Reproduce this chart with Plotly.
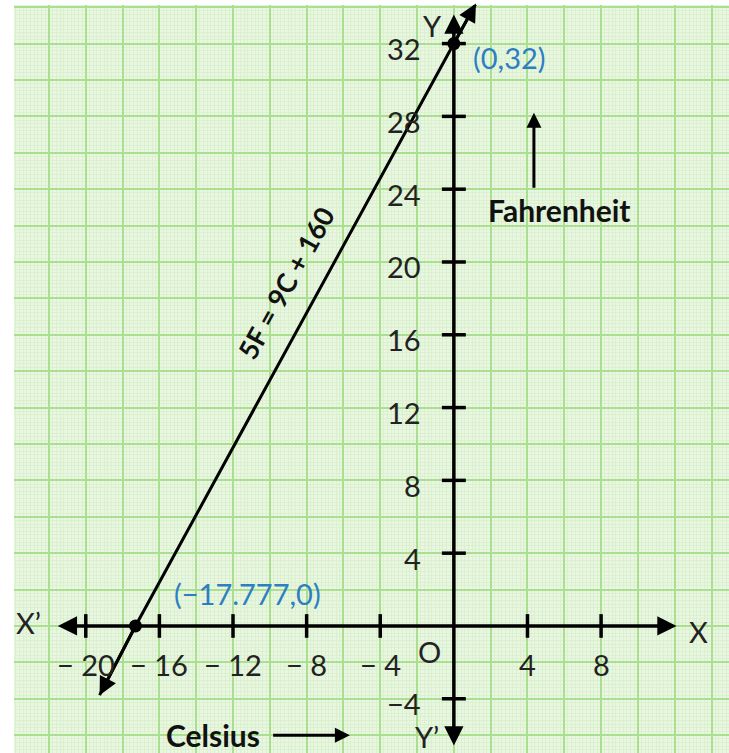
import plotly.graph_objects as go

# line 5F = 9C + 160 as drawn on the sheet (ends of the drawn line + the two marked points)
line_c = [-19.25, -17.3, 0, 1.2]
line_f = [-3.8, 0, 32, 34.2]

point_c = [-17.3, 0]
point_f = [0, 32]
point_labels = ["(−17.777,0)", "(0,32)"]

x_ticks = [-20, -16, -12, -8, -4, 4, 8]
x_tick_labels = ["− 20", "− 16", "− 12", "− 8", "− 4", "4", "8"]
y_ticks = [-4, 4, 8, 12, 16, 20, 24, 28, 32]
y_tick_labels = ["−4", "4", "8", "12", "16", "20", "24", "28", "32"]

FONT = "Lato"
BLUE = "#2d7fc1"
TICK = 0.65
FS = 29

fig = go.Figure()

# tick marks on the drawn axes
tx, ty = [], []
for v in x_ticks:
    tx += [v, v, None]
    ty += [-TICK, TICK, None]
for v in y_ticks:
    tx += [-TICK, TICK, None]
    ty += [v, v, None]
fig.add_trace(go.Scatter(x=tx, y=ty, mode="lines", line=dict(color="black", width=3.5),
                         hoverinfo="skip", showlegend=False))

# the relation line
fig.add_trace(go.Scatter(x=line_c, y=line_f, mode="lines", line=dict(color="black", width=3),
                         showlegend=False))
fig.add_trace(go.Scatter(x=point_c, y=point_f, mode="markers",
                         marker=dict(color="black", size=13), showlegend=False))

ann = []
# axes with arrows at both ends
ann.append(dict(x=12.1, y=0, ax=-21.6, ay=0, xref="x", yref="y", axref="x", ayref="y",
                text="", showarrow=True, arrowhead=2, arrowside="end+start",
                arrowsize=1.1, arrowwidth=3.5, arrowcolor="black"))
ann.append(dict(x=0, y=33.6, ax=0, ay=-6.65, xref="x", yref="y", axref="x", ayref="y",
                text="", showarrow=True, arrowhead=2, arrowside="end+start",
                arrowsize=1.1, arrowwidth=3.5, arrowcolor="black"))
# arrow heads on the relation line
ann.append(dict(x=line_c[-1], y=line_f[-1], ax=line_c[-2], ay=line_f[-2], xref="x", yref="y",
                axref="x", ayref="y", text="", showarrow=True, arrowhead=2,
                arrowsize=1.2, arrowwidth=3, arrowcolor="black"))
ann.append(dict(x=line_c[0], y=line_f[0], ax=line_c[1], ay=line_f[1], xref="x", yref="y",
                axref="x", ayref="y", text="", showarrow=True, arrowhead=2,
                arrowsize=1.2, arrowwidth=3, arrowcolor="black"))

for v, t in zip(x_ticks, x_tick_labels):
    ann.append(dict(x=v, y=-2.1, text=t, showarrow=False, font=dict(size=FS, color="#222")))
for v, t in zip(y_ticks, y_tick_labels):
    ann.append(dict(x=-1.65, y=v, text=t, showarrow=False, xanchor="right", yshift=-5,
                    font=dict(size=FS, color="#222")))

for x, y, t in [(-1.3, -1.4, "O"), (-1.15, 33.0, "Y"), (-1.45, -6.1, "Y’"),
                (-23.1, 0.2, "X’"), (13.3, -0.3, "X")]:
    ann.append(dict(x=x, y=y, text=t, showarrow=False, font=dict(size=FS, color="#222")))

# point labels
ann.append(dict(x=-11.2, y=1.8, text=point_labels[0], showarrow=False,
                font=dict(size=FS, color=BLUE)))
ann.append(dict(x=3.05, y=31.25, text=point_labels[1], showarrow=False,
                font=dict(size=FS, color=BLUE)))

# equation along the line
ann.append(dict(x=-9.1, y=18.85, text="<b>5F = 9C + 160</b>", showarrow=False, textangle=-61,
                font=dict(size=27, color="#111", family=FONT)))

# axis names with their arrows
ann.append(dict(x=5.75, y=22.85, text="<b>Fahrenheit</b>", showarrow=False,
                font=dict(size=30, color="#111")))
ann.append(dict(x=4.35, y=28.2, ax=4.35, ay=24, xref="x", yref="y", axref="x", ayref="y",
                text="", showarrow=True, arrowhead=2, arrowsize=1, arrowwidth=3,
                arrowcolor="black"))
ann.append(dict(x=-13.1, y=-6.0, text="<b>Celsius</b>", showarrow=False,
                font=dict(size=30, color="#111")))
ann.append(dict(x=-5.65, y=-6.0, ax=-9.9, ay=-6.0, xref="x", yref="y", axref="x", ayref="y",
                text="", showarrow=True, arrowhead=2, arrowsize=1, arrowwidth=3,
                arrowcolor="black"))

grid = dict(showgrid=True, gridcolor="#a9df8f", gridwidth=1.6, dtick=2, tick0=0,
            showticklabels=False, zeroline=False, ticks="", showline=False,
            minor=dict(dtick=0.2, tick0=0, showgrid=True, gridcolor="#daf0cf", gridwidth=1))

fig.update_layout(
    width=729, height=753,
    margin=dict(l=14, r=0, t=5, b=0),
    paper_bgcolor="white",
    plot_bgcolor="#e9f6e2",
    font=dict(family=FONT),
    annotations=ann,
    xaxis=dict(range=[-23.9, 14.95], fixedrange=True, **grid),
    yaxis=dict(range=[-6.98, 34.12], fixedrange=True, **grid),
)

fig.write_html("out.html", config={"displayModeBar": False},
               post_script="document.body.style.margin='0';document.body.style.overflow='hidden';")
